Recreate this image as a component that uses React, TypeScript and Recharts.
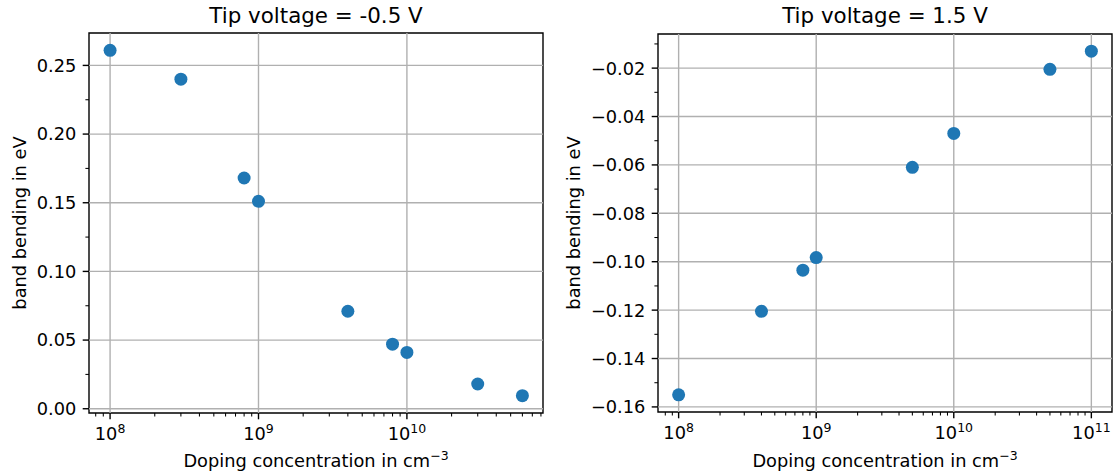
import React from "react";
import {
  ScatterChart,
  Scatter,
  XAxis,
  YAxis,
  ReferenceLine,
  ReferenceArea,
} from "recharts";

// doping concentration (cm^-3) and band bending (eV)
const leftX = [1e8, 3e8, 8e8, 1e9, 4e9, 8e9, 1e10, 3e10, 6e10];
const leftY = [0.261, 0.24, 0.168, 0.151, 0.071, 0.047, 0.041, 0.018, 0.0095];
const rightX = [1e8, 4e8, 8e8, 1e9, 5e9, 1e10, 5e10, 1e11];
const rightY = [-0.155, -0.1205, -0.1035, -0.0983, -0.061, -0.047, -0.0205, -0.013];

const leftXTicks = [1e8, 1e9, 1e10];
const rightXTicks = [1e8, 1e9, 1e10, 1e11];
const leftYTicks = [0, 0.05, 0.1, 0.15, 0.2, 0.25];
const leftYLabels = ["0.00", "0.05", "0.10", "0.15", "0.20", "0.25"];
const leftYMinor = [0.025, 0.075, 0.125, 0.175, 0.225];
const rightYTicks = [-0.16, -0.14, -0.12, -0.1, -0.08, -0.06, -0.04, -0.02];
const rightYLabels = ["−0.16", "−0.14", "−0.12", "−0.10", "−0.08", "−0.06", "−0.04", "−0.02"];
const rightYMinor = [-0.15, -0.13, -0.11, -0.09, -0.07, -0.05, -0.03, -0.01];

const titles = ["Tip voltage = -0.5 V", "Tip voltage = 1.5 V"];
const xLabel = "Doping concentration in cm";
const yLabel = "band bending in eV";

const FONT = "DejaVu Sans";
const BLUE = "#1f77b4";
const GRID = "#b0b0b0";
const FS = 17.8;

// log minor ticks 2..9 x 10^n inside a domain
const minorLog = (dom: number[]) => {
  const out: number[] = [];
  for (let e = 6; e <= 12; e++)
    for (let m = 2; m <= 9; m++) {
      const v = m * Math.pow(10, e);
      if (v > dom[0] && v < dom[1]) out.push(v);
    }
  return out;
};

const near = (a: number, b: number) => Math.abs(a - b) <= Math.abs(b) * 1e-6 + 1e-9;

const XTick = (props: any) => {
  const { x, y, payload, majors } = props;
  const v = payload.value;
  const major = majors.some((m: number) => near(v, m));
  if (!major)
    return <line x1={x} x2={x} y1={y} y2={y + 3.6} stroke="#000" strokeWidth={1.05} />;
  const exp = Math.round(Math.log10(v));
  return (
    <g>
      <line x1={x} x2={x} y1={y} y2={y + 6.3} stroke="#000" strokeWidth={1.4} />
      <text x={x} y={y + 27} textAnchor="middle" fontFamily={FONT} fontSize={FS} fill="#000">
        <tspan>10</tspan>
        <tspan dy={-7.5} fontSize={12.5}>{exp}</tspan>
      </text>
    </g>
  );
};

const YTick = (props: any) => {
  const { x, y, payload, majors, labels } = props;
  const v = payload.value;
  const i = majors.findIndex((m: number) => near(v, m));
  if (i < 0)
    return <line x1={x} x2={x - 3.6} y1={y} y2={y} stroke="#000" strokeWidth={1.05} />;
  return (
    <g>
      <line x1={x} x2={x - 6.3} y1={y} y2={y} stroke="#000" strokeWidth={1.4} />
      <text x={x - 12.6} y={y} dy="0.36em" textAnchor="end" fontFamily={FONT} fontSize={FS} fill="#000">
        {labels[i]}
      </text>
    </g>
  );
};

type PanelProps = {
  xs: number[];
  ys: number[];
  xDom: number[];
  yDom: number[];
  xMajors: number[];
  yMajors: number[];
  yMinors: number[];
  yLabels: string[];
  yAxisWidth: number;
  top: number;
  bottom: number;
  right: number;
};

const Panel = (p: PanelProps) => {
  const data = p.xs.map((x, i) => ({ x, y: p.ys[i] }));
  const xTicks = [...p.xMajors, ...minorLog(p.xDom)].sort((a, b) => a - b);
  const yTicks = [...p.yMajors, ...p.yMinors].sort((a, b) => a - b);
  return (
    <ScatterChart
      width={559}
      height={476}
      margin={{ top: p.top, right: p.right, bottom: 0, left: 0 }}
    >
      <XAxis
        dataKey="x"
        type="number"
        scale="log"
        domain={p.xDom}
        allowDataOverflow
        ticks={xTicks}
        interval={0}
        height={476 - p.bottom}
        axisLine={false}
        tickLine={false}
        tickSize={0}
        tickMargin={0}
        tick={(t: any) => <XTick {...t} majors={p.xMajors} />}
      />
      <YAxis
        dataKey="y"
        type="number"
        domain={p.yDom}
        allowDataOverflow
        ticks={yTicks}
        interval={0}
        width={p.yAxisWidth}
        axisLine={false}
        tickLine={false}
        tickSize={0}
        tickMargin={0}
        tick={(t: any) => <YTick {...t} majors={p.yMajors} labels={p.yLabels} />}
      />
      {p.xMajors.map((v) => (
        <ReferenceLine key={`gx${v}`} x={v} stroke={GRID} strokeWidth={1.4} />
      ))}
      {p.yMajors.map((v) => (
        <ReferenceLine key={`gy${v}`} y={v} stroke={GRID} strokeWidth={1.4} />
      ))}
      <Scatter
        data={data}
        isAnimationActive={false}
        shape={(s: any) => <circle cx={s.cx} cy={s.cy} r={6.5} fill={BLUE} />}
      />
      <ReferenceArea
        x1={p.xDom[0]}
        x2={p.xDom[1]}
        y1={p.yDom[0]}
        y2={p.yDom[1]}
        fill="none"
        fillOpacity={0}
        stroke="#000"
        strokeWidth={1.4}
        ifOverflow="visible"
      />
    </ScatterChart>
  );
};

export default function App() {
  return (
    <div style={{ position: "absolute", left: 0, top: 0, width: 1118, height: 476, background: "#fff" }}>
      <div style={{ position: "absolute", left: 0, top: 0 }}>
        <Panel
          xs={leftX}
          ys={leftY}
          xDom={[7.21e7, 8.26e10]}
          yDom={[-0.0031, 0.2736]}
          xMajors={leftXTicks}
          yMajors={leftYTicks}
          yMinors={leftYMinor}
          yLabels={leftYLabels}
          yAxisWidth={89}
          top={33}
          bottom={413}
          right={16}
        />
      </div>
      <div style={{ position: "absolute", left: 559, top: 0 }}>
        <Panel
          xs={rightX}
          ys={rightY}
          xDom={[7.08e7, 1.413e11]}
          yDom={[-0.1621, -0.0059]}
          xMajors={rightXTicks}
          yMajors={rightYTicks}
          yMinors={rightYMinor}
          yLabels={rightYLabels}
          yAxisWidth={99}
          top={34}
          bottom={412}
          right={6}
        />
      </div>
      <svg
        width={1118}
        height={476}
        style={{ position: "absolute", left: 0, top: 0, pointerEvents: "none" }}
        fontFamily={FONT}
      >
        <text x={316} y={23} textAnchor="middle" fontSize={21.4} fill="#000">{titles[0]}</text>
        <text x={885} y={23} textAnchor="middle" fontSize={21.4} fill="#000">{titles[1]}</text>
        <text x={316} y={467} textAnchor="middle" fontSize={FS} fill="#000">
          {xLabel}
          <tspan dy={-7.5} fontSize={12.5}>−3</tspan>
        </text>
        <text x={885} y={467} textAnchor="middle" fontSize={FS} fill="#000">
          {xLabel}
          <tspan dy={-7.5} fontSize={12.5}>−3</tspan>
        </text>
        <text x={25.5} y={223} textAnchor="middle" fontSize={FS} fill="#000" transform="rotate(-90 25.5 223)">
          {yLabel}
        </text>
        <text x={579.5} y={223} textAnchor="middle" fontSize={FS} fill="#000" transform="rotate(-90 579.5 223)">
          {yLabel}
        </text>
      </svg>
    </div>
  );
}
